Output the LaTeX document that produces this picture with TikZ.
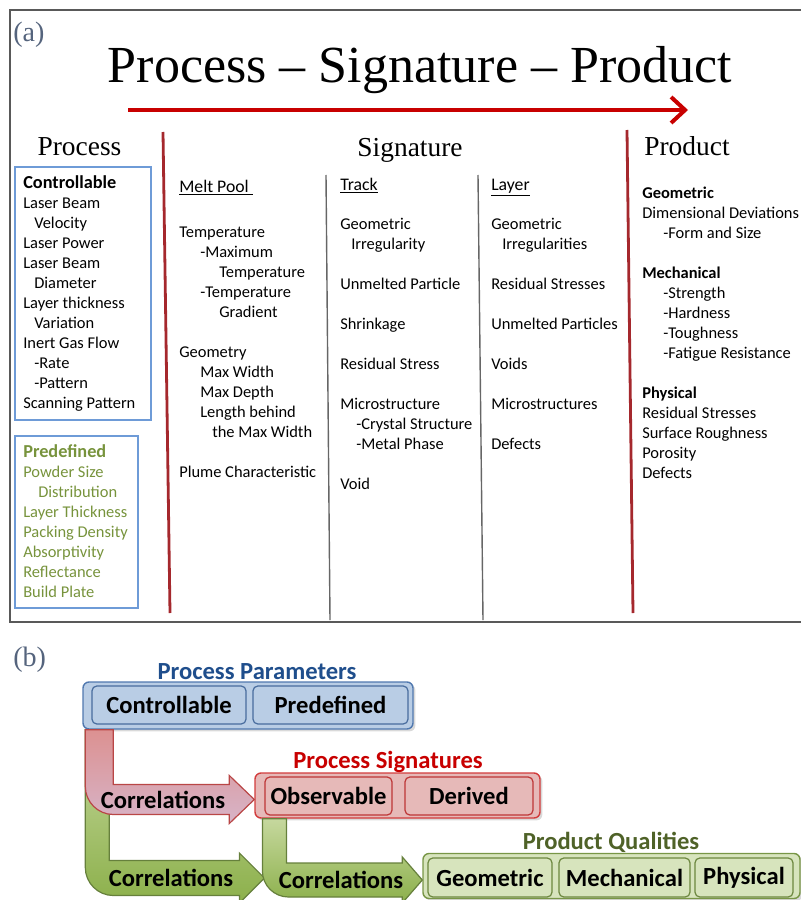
\documentclass[tikz,border=0pt]{standalone}
\usepackage{fontspec}
\setmainfont{Carlito}
\newfontfamily\headfont{Liberation Serif}
\usetikzlibrary{arrows.meta, calc, shadows}

\newlength\pxu
\setlength\pxu{0.25mm}
\newcommand{\ind}[1]{\hspace*{#1\pxu}}
\newcommand{\bodyfont}{\fontsize{11.7pt}{5mm}\selectfont}
\newcommand{\boxhead}[1]{{\fontsize{13pt}{5mm}\selectfont\bfseries #1}}
\newcommand{\colhead}[1]{{\fontsize{12.6pt}{5mm}\selectfont\underline{#1}}}

\definecolor{sepred}{RGB}{165,40,45}
\definecolor{titlered}{RGB}{200,0,0}
\definecolor{boxblue}{RGB}{110,155,215}
\definecolor{predgreen}{RGB}{119,147,60}
\definecolor{taggray}{RGB}{85,100,125}
\definecolor{ppblue}{RGB}{31,78,140}
\definecolor{ppfill}{RGB}{185,205,229}
\definecolor{ppdraw}{RGB}{80,120,175}
\definecolor{psred}{RGB}{200,0,0}
\definecolor{psfill}{RGB}{230,185,184}
\definecolor{psdraw}{RGB}{210,60,60}
\definecolor{pqgreen}{RGB}{79,98,40}
\definecolor{pqfill}{RGB}{215,228,189}
\definecolor{pqdraw}{RGB}{120,150,70}

% fat bent arrow: style, start, tip, band width, band half height, head half height, head length, corner radius
\newcommand{\bentflow}[8]{%
  \path[#1] let \p1=(#2), \p2=(#3) in
    (\x1,\y1) -- (\x1,\y2-#5*\pxu+#8*\pxu)
    .. controls (\x1,\y2-#5*\pxu+0.45*#8*\pxu) and (\x1+0.45*#8*\pxu,\y2-#5*\pxu) ..
    (\x1+#8*\pxu,\y2-#5*\pxu) -- (\x2-#7*\pxu,\y2-#5*\pxu) -- (\x2-#7*\pxu,\y2-#6*\pxu)
    -- (\x2,\y2) -- (\x2-#7*\pxu,\y2+#6*\pxu) -- (\x2-#7*\pxu,\y2+#5*\pxu)
    -- (\x1+#4*\pxu,\y2+#5*\pxu) -- (\x1+#4*\pxu,\y1) -- cycle;}

\begin{document}
\begin{tikzpicture}[
  x=0.25mm, y=-0.25mm,
  % --- styles ------------------------------------------------------------
  col/.style={anchor=north west, inner sep=0pt, align=left, font=\bodyfont},
  head/.style={anchor=base, inner sep=0pt, font=\headfont\fontsize{19.5pt}{24pt}\selectfont},
  tag/.style={anchor=base west, inner sep=0pt, text=taggray, font=\headfont\fontsize{20pt}{24pt}\selectfont},
  frame/.style={draw=black!65, line width=0.4mm},
  sepline/.style={draw=sepred, line width=0.7mm},
  colline/.style={draw=black!60, line width=0.35mm},
  listbox/.style={draw=boxblue, line width=0.35mm},
  titleflow/.style={draw=titlered, line width=1mm, -{Straight Barb[length=3.5mm, width=6.5mm]}},
  cell/.style={rounded corners=1.2mm, line width=0.3mm, inner sep=0pt,
    font=\fontsize{17.5pt}{20pt}\selectfont\bfseries},
  outer/.style={rounded corners=1.5mm, line width=0.35mm, inner sep=0pt,
    drop shadow={opacity=0.3, shadow xshift=0.6mm, shadow yshift=-0.6mm}},
  ppouter/.style={outer, draw=ppdraw, fill=ppfill},
  ppcell/.style={cell, draw=ppdraw!90!black, fill=ppfill},
  psouter/.style={outer, draw=psdraw, fill=psfill},
  pscell/.style={cell, draw=psdraw!90!black, fill=psfill},
  pqouter/.style={outer, draw=pqdraw, fill=pqfill},
  pqcell/.style={cell, draw=pqdraw!90!black, fill=pqfill},
  grouptitle/.style={inner sep=0pt, font=\fontsize{17.5pt}{20pt}\selectfont\bfseries},
  redflow/.style={draw=red!45!gray, line width=0.3mm, top color={rgb,255:red,220;green,145;blue,145},
    bottom color={rgb,255:red,215;green,180;blue,200}},
  greenflow/.style={draw=pqdraw!85!black, line width=0.3mm, top color={rgb,255:red,198;green,216;blue,158},
    bottom color={rgb,255:red,140;green,176;blue,75}},
  flowlabel/.style={inner sep=0pt, font=\fontsize{17.5pt}{20pt}\selectfont\bfseries}
]
\useasboundingbox (0,0) rectangle (800,900);

% --------------------- (a) frame and title -------------------------------
\draw[frame] (10,10) rectangle (803,622);
\node[tag] (taga) at (13,42) {(a)};
\node[anchor=base, inner sep=0pt, font=\headfont\fontsize{37pt}{44pt}\selectfont] (title)
  at (420,83) {Process – Signature – Product};
\coordinate (tstart) at (128,110);
\coordinate (tend) at (688,110);
\draw[titleflow] (tstart) -- (tend);

% --------------------- column separators ---------------------------------
\draw[sepline] (163,132) -- (170,613);
\draw[sepline] (627,130) -- (633,613);
\draw[colline] (326,175) -- (330,620);
\draw[colline] (478,175) -- (483,620);

% --------------------- headings ------------------------------------------
\node[head] (hproc) at (79.5,156) {Process};
\node[head] (hsig) at (410,157) {Signature};
\node[head] (hprod) at (687,156) {Product};

% --------------------- Process column ------------------------------------
\draw[listbox] (15,167) rectangle (151,420);
\node[col] (ctrl) at (23,174) {\strut\boxhead{Controllable}\\
  Laser Beam\\
  \ind{11}Velocity\\
  Laser Power\\
  Laser Beam\\
  \ind{11}Diameter\\
  Layer thickness\\
  \ind{11}Variation\\
  Inert Gas Flow\\
  \ind{11}-Rate\\
  \ind{11}-Pattern\\
  Scanning Pattern};

\draw[listbox] (15,436) rectangle (138,608);
\node[col, text=predgreen] (pred) at (23,443) {\strut\boxhead{Predefined}\\
  Powder Size\\
  \ind{15}Distribution\\
  Layer Thickness\\
  Packing Density\\
  Absorptivity\\
  Reflectance\\
  Build Plate};

% --------------------- Signature columns ---------------------------------
\node[col] (mphead) at (179,178) {\strut\colhead{Melt Pool\ }};
\node[col] (mp) at (179,223) {\strut Temperature\\
  \ind{21}-Maximum\\
  \ind{40}Temperature\\
  \ind{21}-Temperature\\
  \ind{40}Gradient\\[5mm]
  Geometry\\
  \ind{21}Max Width\\
  \ind{21}Max Depth\\
  \ind{21}Length behind\\
  \ind{33}the Max Width\\[5mm]
  Plume Characteristic};

\node[col] (trhead) at (340,176) {\strut\colhead{Track}};
\node[col] (tr) at (340,215) {\strut Geometric\\
  \ind{11}Irregularity\\[5mm]
  Unmelted Particle\\[5mm]
  Shrinkage\\[5mm]
  Residual Stress\\[5mm]
  Microstructure\\
  \ind{16}-Crystal Structure\\
  \ind{16}-Metal Phase\\[5mm]
  Void};

\node[col] (lyhead) at (491,176) {\strut\colhead{Layer}};
\node[col] (ly) at (491,215) {\strut Geometric\\
  \ind{11}Irregularities\\[5mm]
  Residual Stresses\\[5mm]
  Unmelted Particles\\[5mm]
  Voids\\[5mm]
  Microstructures\\[5mm]
  Defects};

% --------------------- Product column ------------------------------------
\node[col] (pr) at (642,184) {\strut\textbf{Geometric}\\
  Dimensional Deviations\\
  \ind{21}-Form and Size\\[5mm]
  \textbf{Mechanical}\\
  \ind{21}-Strength\\
  \ind{21}-Hardness\\
  \ind{21}-Toughness\\
  \ind{21}-Fatigue Resistance\\[5mm]
  \textbf{Physical}\\
  Residual Stresses\\
  Surface Roughness\\
  Porosity\\
  Defects};

% --------------------- (b) groups ----------------------------------------
\node[tag] (tagb) at (13,666) {(b)};

\node[ppouter, minimum width=330\pxu, minimum height=47\pxu] (pp) at (248,705.5) {};
\node[ppcell, minimum width=154\pxu, minimum height=38\pxu] (ctrlcell) at (169,705) {Controllable};
\node[ppcell, minimum width=155\pxu, minimum height=38\pxu] (predcell) at (330.5,705) {Predefined};
\node[grouptitle, text=ppblue] (pptitle) at (257,672) {Process Parameters};

\node[psouter, minimum width=285\pxu, minimum height=45\pxu] (ps) at (397.5,795.5) {};
\node[pscell, minimum width=127\pxu, minimum height=38\pxu] (obs) at (328.5,796) {Observable};
\node[pscell, minimum width=128\pxu, minimum height=38\pxu] (der) at (469,796) {Derived};
\node[grouptitle, text=psred] (pstitle) at (388,762) {Process Signatures};

\node[pqouter, minimum width=377\pxu, minimum height=45\pxu] (pq) at (611.5,876) {};
\node[pqcell, minimum width=124\pxu, minimum height=39\pxu] (geo) at (490,877.5) {Geometric};
\node[pqcell, minimum width=131\pxu, minimum height=39\pxu] (mech) at (624.5,877.5) {Mechanical};
\node[pqcell, minimum width=98\pxu, minimum height=39\pxu] (phys) at (744,877.5) {Physical};
\node[grouptitle, text=pqgreen] (pqtitle) at (611,842) {Product Qualities};

% --------------------- correlation arrows --------------------------------
\bentflow{greenflow}{$(pp.south west)+(3,0)$}{$(obs.south west |- pq.west)+(0,2)$}{24}{17.5}{25}{25}{28}
\bentflow{greenflow}{$(obs.south west |- ps.south)+(-2,0)$}{$(pq.west)+(0,4)$}{24}{17}{23}{20}{26}
\bentflow{redflow}{$(pp.south west)+(3,0)$}{$(ps.west)+(0,4)$}{28}{15}{24}{25}{28}

\node[flowlabel] (corr1) at (163,800) {Correlations};
\node[flowlabel] (corr2) at (171,878) {Correlations};
\node[flowlabel] (corr3) at (341,880) {Correlations};

\end{tikzpicture}
\end{document}
